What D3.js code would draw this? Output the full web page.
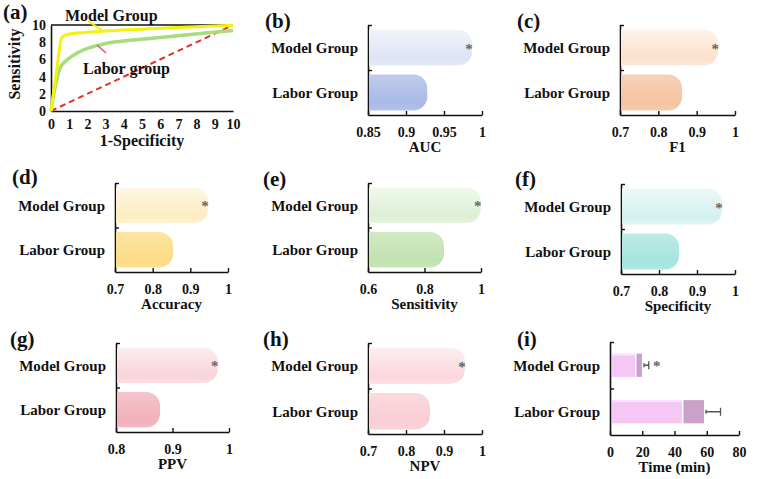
<!DOCTYPE html>
<html>
<head>
<meta charset="utf-8">
<script src="https://cdn.jsdelivr.net/npm/d3@7"></script>
<style>
  body { margin: 0; background: #fff; }
  text { font-family: 'Liberation Serif', 'Times New Roman', serif; font-weight: bold; fill: #111; }
</style>
</head>
<body>
<script>
// ---- data ----
const groups = [ 'Model Group', 'Labor Group' ];
const metrics = [ 'AUC', 'F1', 'Accuracy', 'Sensitivity', 'Specificity', 'PPV', 'NPV' ];
const modelValues = [ 0.987, 0.956, 0.947, 0.999, 0.966, 0.980, 0.955 ];
const laborValues = [ 0.928, 0.862, 0.854, 0.869, 0.853, 0.878, 0.863 ];
const metricTicks = [
  [ 0.85, 0.9, 0.95, 1 ],
  [ 0.7, 0.8, 0.9, 1 ],
  [ 0.7, 0.8, 0.9, 1 ],
  [ 0.6, 0.8, 1 ],
  [ 0.7, 0.8, 0.9, 1 ],
  [ 0.8, 0.9, 1 ],
  [ 0.7, 0.8, 0.9, 1 ]
];

// time panel (i): two stacked parts + error
const timeMain = [ 15.5, 44.6 ];
const timeExtra = [ 4.3, 13.7 ];
const timeErr = [ 3, 9 ];
const timeTicks = [ 0, 20, 40, 60, 80 ];

// ROC panel (a)
const rocTicksX = [ 0, 1, 2, 3, 4, 5, 6, 7, 8, 9, 10 ];
const rocTicksY = [ 0, 2, 4, 6, 8, 10 ];
const rocModel = [ [0,0], [0.3,4.5], [0.6,8.6], [1,8.95], [2,9.15], [3,9.3], [5,9.5], [7,9.7], [10,9.97] ];
const rocLabor = [ [0,0], [0.13,1.7], [0.31,3.6], [0.5,5.0], [0.86,5.9], [1.4,6.7], [2.05,7.3], [3,7.85], [4.5,8.25], [6.3,8.6], [8.2,9.0], [10,9.35] ];
const rocChance = [ [0,0], [10,10] ];

// ---- styling ----
const modelColors = [ '#dde3f6', '#fbe0cd', '#fcecc0', '#dcefd3', '#d2f1ee', '#f8d3da', '#fbd6dc' ];
const laborColors = [ '#a9b9e6', '#f5c3a1', '#fbdb85', '#c2e2b0', '#a5e4de', '#f2b0bb', '#f9cdd4' ];

const svg = d3.select( 'body' ).append( 'svg' )
  .attr( 'width', 757 )
  .attr( 'height', 479 );
const defs = svg.append( 'defs' );

function gradient( id, base, lift ) {
  const g = defs.append( 'linearGradient' ).attr( 'id', id )
    .attr( 'x1', 0 ).attr( 'y1', 0 ).attr( 'x2', 0 ).attr( 'y2', 1 );
  g.append( 'stop' ).attr( 'offset', '0%' ).attr( 'stop-color', d3.interpolateRgb( base, '#fff' )( lift ) );
  g.append( 'stop' ).attr( 'offset', '80%' ).attr( 'stop-color', base );
  g.append( 'stop' ).attr( 'offset', '100%' ).attr( 'stop-color', d3.interpolateRgb( base, '#fff' )( lift * 0.5 ) );
  return 'url(#' + id + ')';
}

function roundedBar( x0, y0, w, h, r ) {
  r = Math.min( r, w, h / 2 );
  return 'M' + x0 + ',' + y0 + 'H' + ( x0 + w - r ) +
    'A' + r + ',' + r + ' 0 0 1 ' + ( x0 + w ) + ',' + ( y0 + r ) +
    'V' + ( y0 + h - r ) +
    'A' + r + ',' + r + ' 0 0 1 ' + ( x0 + w - r ) + ',' + ( y0 + h ) +
    'H' + x0 + 'Z';
}

function letter( txt, x, y ) {
  svg.append( 'text' ).attr( 'x', x ).attr( 'y', y )
    .style( 'font-size', '21px' ).text( txt );
}

function styleAxis( g ) {
  g.select( '.domain' ).attr( 'stroke', '#111' ).attr( 'stroke-width', 1.6 );
  g.selectAll( '.tick line' ).attr( 'stroke', '#111' ).attr( 'stroke-width', 1.4 );
  g.selectAll( 'text' ).attr( 'font-family', null ).style( 'font-size', '14px' ).attr( 'fill', '#111' );
}

// frame of a horizontal bar panel: band scale for groups, axes
function barFrame( p, xScale, ticks, title, pad ) {
  const y = d3.scaleBand().domain( groups ).range( [ p.top, p.bottom ] )
    .paddingInner( pad[0] ).paddingOuter( pad[1] );
  const yLin = d3.scaleLinear().domain( [ 0, groups.length ] ).range( [ p.bottom, p.top ] );

  svg.append( 'g' )
    .attr( 'transform', 'translate(0,' + p.bottom + ')' )
    .call( d3.axisBottom( xScale ).tickValues( ticks ).tickSizeInner( -4 ).tickSizeOuter( 0 ).tickPadding( 12 )
      .tickFormat( d => String( +d.toFixed( 2 ) ) ) )
    .call( styleAxis );

  svg.append( 'g' )
    .attr( 'transform', 'translate(' + p.left + ',0)' )
    .call( d3.axisLeft( yLin ).tickValues( [ 1, 2 ] ).tickSizeInner( -4 ).tickSizeOuter( 0 ).tickFormat( '' ) )
    .call( styleAxis );

  svg.append( 'g' ).selectAll( 'text' )
    .data( groups ).enter().append( 'text' )
      .attr( 'x', p.left - 10 )
      .attr( 'y', d => y( d ) + y.bandwidth() / 2 )
      .attr( 'dy', '0.35em' )
      .attr( 'text-anchor', 'end' )
      .style( 'font-size', '15px' )
      .text( d => d );

  svg.append( 'text' )
    .attr( 'x', ( p.left + p.right ) / 2 )
    .attr( 'y', p.bottom + 37 )
    .attr( 'text-anchor', 'middle' )
    .style( 'font-size', '15px' )
    .text( title );

  letter( p.letter, p.lx, p.ly );
  return y;
}

// ---- metric panels (b)-(h) ----
const panels = [
  { letter: '(b)', lx: 265, ly: 28, left: 368, right: 482, top: 25, bottom: 115 },
  { letter: '(c)', lx: 517, ly: 28, left: 620, right: 735, top: 25, bottom: 115 },
  { letter: '(d)', lx: 12, ly: 184, left: 115, right: 228, top: 183, bottom: 272 },
  { letter: '(e)', lx: 263, ly: 186, left: 368, right: 481, top: 183, bottom: 272 },
  { letter: '(f)', lx: 515, ly: 186, left: 621, right: 735, top: 184, bottom: 274 },
  { letter: '(g)', lx: 10, ly: 346, left: 116, right: 229, top: 343, bottom: 432 },
  { letter: '(h)', lx: 263, ly: 346, left: 368, right: 482, top: 343, bottom: 434 }
];

metrics.forEach( function( m, i ) {
  const p = panels[i];
  const ticks = metricTicks[i];
  const x = d3.scaleLinear().domain( d3.extent( ticks ) ).range( [ p.left, p.right ] );
  const y = barFrame( p, x, ticks, m, [ 0.2, 0.1 ] );

  const vals = [ modelValues[i], laborValues[i] ];
  const fills = [ gradient( 'gm' + i, modelColors[i], 0.6 ), gradient( 'gl' + i, laborColors[i], 0.25 ) ];

  svg.append( 'g' ).selectAll( 'path' )
    .data( groups ).enter().append( 'path' )
      .attr( 'd', ( d, j ) => roundedBar( p.left + 1, y( d ), x( vals[j] ) - p.left - 1, y.bandwidth(), 14 ) )
      .attr( 'fill', ( d, j ) => fills[j] );

  svg.append( 'text' )
    .attr( 'x', x( vals[0] ) - 3 )
    .attr( 'y', y( groups[0] ) + y.bandwidth() / 2 + 6 )
    .attr( 'text-anchor', 'middle' )
    .style( 'font-size', '15px' )
    .style( 'fill', '#666' )
    .text( '*' );
} );

// ---- panel (i): time ----
( function() {
  const p = { letter: '(i)', lx: 517, ly: 346, left: 610, right: 739, top: 342, bottom: 435 };
  const x = d3.scaleLinear().domain( [ 0, 80 ] ).range( [ p.left, p.right ] );
  const y = barFrame( p, x, timeTicks, 'Time (min)', [ 0.5, 0.25 ] );
  const bars = svg.append( 'g' ).selectAll( 'g' )
    .data( groups ).enter().append( 'g' );

  bars.append( 'rect' )
    .attr( 'x', p.left + 2 )
    .attr( 'y', d => y( d ) )
    .attr( 'width', ( d, j ) => x( timeMain[j] ) - p.left - 2 )
    .attr( 'height', y.bandwidth() )
    .attr( 'fill', '#f5c7f5' );
  bars.append( 'rect' )
    .attr( 'x', p.left + 2 )
    .attr( 'y', d => y( d ) )
    .attr( 'width', ( d, j ) => x( timeMain[j] ) - p.left - 2 )
    .attr( 'height', 2 )
    .attr( 'fill', '#fbe3fb' );
  bars.append( 'rect' )
    .attr( 'x', ( d, j ) => x( timeMain[j] ) + 1.5 )
    .attr( 'y', d => y( d ) )
    .attr( 'width', ( d, j ) => x( timeMain[j] + timeExtra[j] ) - x( timeMain[j] ) - 1.5 )
    .attr( 'height', y.bandwidth() )
    .attr( 'fill', '#c9a1cb' );

  // error bars
  bars.append( 'path' )
    .attr( 'd', function( d, j ) {
      const x0 = x( timeMain[j] + timeExtra[j] ) + 2, x1 = x( timeMain[j] + timeExtra[j] + timeErr[j] ) + 2;
      const cy = y( d ) + y.bandwidth() / 2;
      return 'M' + x0 + ',' + cy + 'H' + x1 + 'M' + x1 + ',' + ( cy - 4 ) + 'V' + ( cy + 4 ) +
        'M' + x0 + ',' + ( cy - 2 ) + 'V' + ( cy + 2 );
    } )
    .attr( 'stroke', '#555' ).attr( 'stroke-width', 1.3 ).attr( 'fill', 'none' );

  svg.append( 'text' )
    .attr( 'x', x( timeMain[0] + timeExtra[0] + timeErr[0] ) + 10 )
    .attr( 'y', y( groups[0] ) + y.bandwidth() / 2 + 6 )
    .attr( 'text-anchor', 'middle' )
    .style( 'font-size', '15px' )
    .style( 'fill', '#666' )
    .text( '*' );
} )();

// ---- panel (a): ROC ----
( function() {
  const p = { left: 51, right: 233, top: 25, bottom: 111 };
  const x = d3.scaleLinear().domain( [ 0, 10 ] ).range( [ p.left, p.right ] );
  const y = d3.scaleLinear().domain( [ 0, 10 ] ).range( [ p.bottom, p.top ] );

  svg.append( 'g' )
    .attr( 'transform', 'translate(0,' + p.bottom + ')' )
    .call( d3.axisBottom( x ).tickValues( rocTicksX ).tickSizeInner( 0 ).tickSizeOuter( 0 ).tickPadding( 8 ) )
    .call( styleAxis );
  svg.append( 'g' )
    .attr( 'transform', 'translate(' + p.left + ',0)' )
    .call( d3.axisLeft( y ).tickValues( rocTicksY ).tickSizeInner( 0 ).tickSizeOuter( 0 ).tickPadding( 5 ) )
    .call( styleAxis );
  svg.append( 'line' )
    .attr( 'x1', p.left ).attr( 'x2', p.right )
    .attr( 'y1', y( 10 ) ).attr( 'y2', y( 10 ) )
    .attr( 'stroke', '#111' ).attr( 'stroke-width', 1.4 );

  const line = d3.line().x( d => x( d[0] ) ).y( d => y( d[1] ) );

  svg.append( 'path' ).datum( rocChance )
    .attr( 'd', line )
    .attr( 'fill', 'none' ).attr( 'stroke', '#e0302a' ).attr( 'stroke-width', 2 )
    .attr( 'stroke-dasharray', '6,4' );
  svg.append( 'path' ).datum( rocLabor )
    .attr( 'd', line.curve( d3.curveMonotoneX ) )
    .attr( 'fill', 'none' ).attr( 'stroke', '#a8dc7c' ).attr( 'stroke-width', 3.5 );
  svg.append( 'path' ).datum( rocModel )
    .attr( 'd', line.curve( d3.curveMonotoneX ) )
    .attr( 'fill', 'none' ).attr( 'stroke', '#f4f10c' ).attr( 'stroke-width', 3 );

  // annotations
  svg.append( 'text' ).attr( 'x', 65 ).attr( 'y', 21 ).style( 'font-size', '16px' ).text( 'Model Group' );
  svg.append( 'line' ).attr( 'x1', 88 ).attr( 'y1', 21 ).attr( 'x2', 103 ).attr( 'y2', 31 )
    .attr( 'stroke', '#f4f10c' ).attr( 'stroke-width', 2 );
  svg.append( 'text' ).attr( 'x', 83 ).attr( 'y', 74 ).style( 'font-size', '16px' ).text( 'Labor group' );
  svg.append( 'line' ).attr( 'x1', 97 ).attr( 'y1', 45 ).attr( 'x2', 106 ).attr( 'y2', 53 )
    .attr( 'stroke', '#e0507a' ).attr( 'stroke-width', 1.5 );

  svg.append( 'text' )
    .attr( 'x', ( p.left + p.right ) / 2 ).attr( 'y', 146 )
    .attr( 'text-anchor', 'middle' ).style( 'font-size', '16px' )
    .text( '1-Specificity' );
  svg.append( 'text' )
    .attr( 'transform', 'translate(20,64) rotate(-90)' )
    .attr( 'text-anchor', 'middle' ).style( 'font-size', '16px' )
    .text( 'Sensitivity' );

  letter( '(a)', 3, 19 );
} )();
</script>
</body>
</html>
